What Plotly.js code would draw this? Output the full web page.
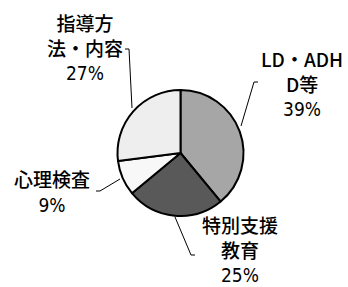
<!DOCTYPE html>
<html><head><meta charset="utf-8">
<script src="https://cdn.plot.ly/plotly-3.0.1.min.js"></script>
<style>html,body{margin:0;padding:0;background:#fff;}#chart{width:348px;height:287px;}</style>
</head><body><div id="chart"></div>
<script>
const categories = ["LD・ADHD等", "特別支援教育", "心理検査", "指導方法・内容"];
const labelTexts = ["LD・ADH<br>D等", "特別支援<br>教育", "心理検査", "指導方<br>法・内容"];
const values = [39, 25, 9, 27];
const colors = ["#a6a6a6", "#595959", "#f8f8f8", "#eeeeee"];

const W = 348, H = 287;
const px = x => x / W, py = y => 1 - y / H;

// label placements (pixels) and leader lines (pixels)
const labelPos = [[302, 82], [240, 248], [52, 190], [85, 46]];
const leaders = [
  [[241, 126], [254, 82], [258, 82]],
  [[175, 217], [191, 255], [195, 255]],
  [[120, 179], [100, 191], [96, 191]],
  [[132, 108], [129, 49], [125, 49]]
];

const cx = 180.5, cy = 153, r = 63;

const annotations = categories.map((c, i) => ({
  xref: 'paper', yref: 'paper',
  x: px(labelPos[i][0]), y: py(labelPos[i][1]),
  xanchor: 'center', yanchor: 'middle', align: 'center',
  showarrow: false,
  text: labelTexts[i] + '<br><span style="font-family:\'Liberation Sans Narrow\',\'Arial Narrow\',\'DejaVu Sans Condensed\',sans-serif">' + values[i] + '%</span>',
  font: {family: '"Noto Sans CJK JP", sans-serif', size: 19, color: '#000', weight: 500}
}));

const shapes = leaders.map(pts => ({
  type: 'path', xref: 'paper', yref: 'paper',
  path: 'M' + pts.map(p => px(p[0]) + ',' + py(p[1])).join(' L'),
  line: {color: '#000', width: 1}
}));

Plotly.newPlot('chart', [{
  type: 'pie',
  labels: categories,
  values: values,
  sort: false,
  direction: 'clockwise',
  rotation: 0,
  textinfo: 'none',
  hoverinfo: 'none',
  marker: {colors: colors, line: {color: '#000', width: 2}},
  domain: {x: [px(cx - r), px(cx + r)], y: [py(cy + r), py(cy - r)]},
  showlegend: false
}], {
  width: W, height: H,
  margin: {l: 0, r: 0, t: 0, b: 0},
  paper_bgcolor: '#fff',
  showlegend: false,
  annotations: annotations,
  shapes: shapes
}, {staticPlot: true});
</script></body></html>
